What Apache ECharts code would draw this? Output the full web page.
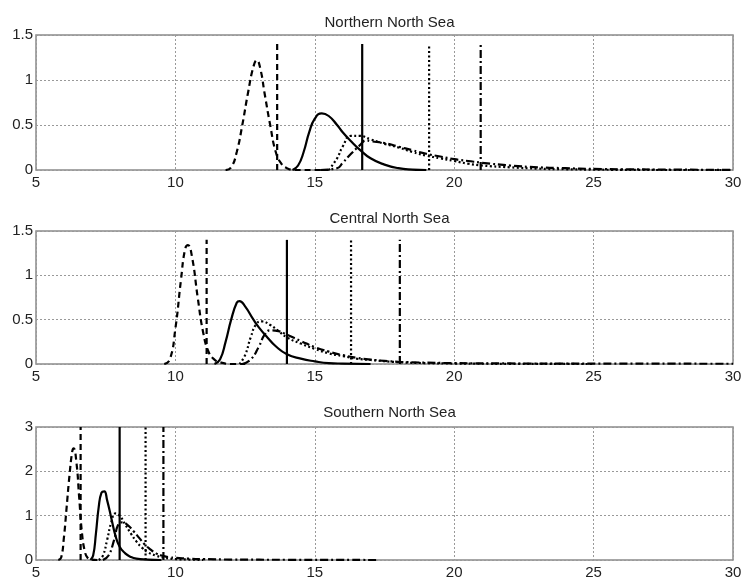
<!DOCTYPE html>
<html>
<head>
<meta charset="utf-8">
<script src="https://cdn.jsdelivr.net/npm/echarts@6/dist/echarts.min.js"></script>
<style>
html, body { margin: 0; padding: 0; background: #fff; }
#chart { width: 746px; height: 582px; }
</style>
</head>
<body>
<div id="chart"></div>
<script>
var titles = ['Northern North Sea', 'Central North Sea', 'Southern North Sea']
var yMax = [1.5, 1.5, 3]
var yStep = [0.5, 0.5, 1]

// northern north sea curves [x, density]
var northDashed = [[11.8, 0], [12.0, 0.03], [12.2, 0.2], [12.4, 0.5], [12.6, 0.85], [12.8, 1.15], [12.92, 1.22], [13.05, 1.12],
    [13.2, 0.85], [13.4, 0.5], [13.6, 0.2], [13.8, 0.07], [14.0, 0.02], [14.3, 0], [15.0, 0], [15.5, 0]]
var northSolid = [[14.2, 0], [14.4, 0.05], [14.6, 0.2], [14.8, 0.42], [15.0, 0.57], [15.25, 0.63], [15.5, 0.6], [15.8, 0.5],
    [16.0, 0.42], [16.3, 0.32], [16.6, 0.23], [17.0, 0.13], [17.5, 0.06], [18.0, 0.02], [18.5, 0.005], [19.0, 0]]
var northDotted = [[15.5, 0], [15.8, 0.13], [16.0, 0.26], [16.3, 0.38], [16.6, 0.38], [17.0, 0.34], [17.5, 0.29], [18.0, 0.25],
    [18.5, 0.2], [19.0, 0.16], [19.5, 0.13], [20.0, 0.1], [20.5, 0.07], [21.0, 0.05], [22.0, 0.03], [23.0, 0.015],
    [24.0, 0.008], [25.0, 0.004], [26.0, 0.002], [28.0, 0], [30.0, 0]]
var northDashDot = [[15.2, 0], [15.8, 0.02], [16.0, 0.08], [16.3, 0.18], [16.6, 0.27], [16.85, 0.33], [17.0, 0.32], [17.5, 0.3],
    [18.0, 0.26], [18.5, 0.22], [19.0, 0.18], [19.5, 0.15], [20.0, 0.12], [20.5, 0.1], [21.0, 0.08], [22.0, 0.05],
    [23.0, 0.03], [24.0, 0.02], [25.0, 0.012], [26.0, 0.008], [28.0, 0.004], [30.0, 0.002]]
var northMarks = [13.65, 16.7, 19.1, 20.95]

// central north sea curves
var centralDashed = [[9.6, 0], [9.8, 0.05], [10.0, 0.4], [10.2, 0.95], [10.35, 1.3], [10.45, 1.34], [10.6, 1.2], [10.8, 0.75],
    [11.0, 0.35], [11.2, 0.13], [11.4, 0.05], [11.6, 0.02], [12.0, 0], [12.5, 0]]
var centralSolid = [[11.4, 0], [11.6, 0.05], [11.8, 0.25], [12.0, 0.5], [12.2, 0.69], [12.3, 0.71], [12.5, 0.65], [12.8, 0.5],
    [13.0, 0.41], [13.3, 0.3], [13.6, 0.2], [14.0, 0.11], [14.5, 0.06], [15.0, 0.03], [15.5, 0.01], [16.0, 0.005], [17.0, 0]]
var centralDotted = [[12.3, 0], [12.5, 0.1], [12.7, 0.3], [12.9, 0.45], [13.1, 0.48], [13.4, 0.44], [13.7, 0.37], [14.0, 0.3],
    [14.5, 0.23], [15.0, 0.17], [15.5, 0.12], [16.0, 0.09], [16.5, 0.06], [17.0, 0.045], [18.0, 0.02], [19.0, 0.01],
    [20.0, 0.005], [22.0, 0.002], [25.0, 0]]
var centralDashDot = [[12.4, 0], [12.7, 0.05], [13.0, 0.2], [13.2, 0.33], [13.4, 0.38], [13.7, 0.37], [14.0, 0.33], [14.5, 0.26],
    [15.0, 0.19], [15.5, 0.14], [16.0, 0.1], [16.5, 0.07], [17.0, 0.05], [17.5, 0.035], [18.0, 0.025], [19.0, 0.015],
    [20.0, 0.01], [22.0, 0.006], [25.0, 0.004], [30.0, 0.003]]
var centralMarks = [11.12, 14.0, 16.3, 18.05]

// southern north sea curves
var southDashed = [[5.8, 0], [5.9, 0.05], [6.0, 0.5], [6.1, 1.2], [6.2, 1.9], [6.3, 2.45], [6.35, 2.52], [6.45, 2.2],
    [6.55, 1.4], [6.65, 0.6], [6.75, 0.2], [6.85, 0.05], [7.0, 0.01], [7.2, 0]]
var southSolid = [[6.95, 0], [7.05, 0.1], [7.15, 0.6], [7.25, 1.2], [7.35, 1.52], [7.45, 1.55], [7.55, 1.35], [7.7, 0.95],
    [7.85, 0.55], [8.0, 0.3], [8.2, 0.15], [8.4, 0.07], [8.6, 0.03], [9.0, 0.01], [9.5, 0]]
var southDotted = [[7.25, 0], [7.4, 0.1], [7.55, 0.45], [7.7, 0.85], [7.85, 1.05], [8.0, 1.0], [8.2, 0.8], [8.4, 0.6],
    [8.6, 0.42], [8.8, 0.28], [9.0, 0.18], [9.3, 0.1], [9.6, 0.05], [10.0, 0.02], [10.5, 0.01], [11.0, 0]]
var southDashDot = [[7.4, 0], [7.6, 0.1], [7.8, 0.45], [7.95, 0.8], [8.1, 0.85], [8.3, 0.78], [8.5, 0.65], [8.7, 0.5],
    [8.9, 0.35], [9.1, 0.24], [9.3, 0.15], [9.5, 0.1], [9.8, 0.06], [10.0, 0.05], [10.5, 0.03], [11.0, 0.02],
    [12.0, 0.01], [14.0, 0.005], [17.2, 0]]
var southMarks = [6.6, 8.0, 8.93, 9.57]

var markTop = [1.4, 1.4, 3]

var curves = [
    [northDashed, northSolid, northDotted, northDashDot],
    [centralDashed, centralSolid, centralDotted, centralDashDot],
    [southDashed, southSolid, southDotted, southDashDot]
]
var marks = [northMarks, centralMarks, southMarks]

var lineTypes = [[6, 4], 'solid', [2, 2.5], [8, 3, 2, 3]]
var gridTops = [35, 231, 427]
var gridHeights = [135, 133, 133]
var titleTops = [10, 206, 400]
var font = 'Liberation Sans, Arial, sans-serif'

var grids = [], xAxes = [], yAxes = [], titleList = [], series = []
for (let i = 0; i < 3; i++) {
    grids.push({
        left: 36, top: gridTops[i], width: 697, height: gridHeights[i],
        show: true, borderColor: '#8a8a8a', borderWidth: 1.5, backgroundColor: '#fff'
    })
    titleList.push({
        text: titles[i], left: 384.5, top: titleTops[i], textAlign: 'center',
        textStyle: { fontFamily: font, fontSize: 15, fontWeight: 'normal', color: '#222' }
    })
    xAxes.push({
        type: 'value', gridIndex: i, min: 5, max: 30, interval: 5,
        axisLine: { show: false }, axisTick: { show: false },
        axisLabel: { fontFamily: font, fontSize: 15, color: '#222', margin: 5 },
        splitLine: { lineStyle: { color: '#999', type: [2, 2], width: 1 } }
    })
    yAxes.push({
        type: 'value', gridIndex: i, min: 0, max: yMax[i], interval: yStep[i],
        axisLine: { show: false }, axisTick: { show: false },
        axisLabel: { fontFamily: font, fontSize: 15, color: '#222', margin: 3 },
        splitLine: { lineStyle: { color: '#999', type: [2, 2], width: 1 } }
    })
    for (let k = 0; k < 4; k++) {
        series.push({
            type: 'line', xAxisIndex: i, yAxisIndex: i, data: curves[i][k],
            showSymbol: false, symbol: 'none', smooth: 0.5,
            lineStyle: { color: '#000', width: 2.2, type: lineTypes[k] }, z: 3
        })
        series.push({
            type: 'line', xAxisIndex: i, yAxisIndex: i,
            data: [[marks[i][k], 0], [marks[i][k], markTop[i]]],
            showSymbol: false, symbol: 'none',
            lineStyle: { color: '#000', width: 2.2, type: lineTypes[k] }, z: 3
        })
    }
}

var myChart = echarts.init(document.getElementById('chart'))
myChart.setOption({
    backgroundColor: '#fff',
    animation: false,
    title: titleList,
    grid: grids,
    xAxis: xAxes,
    yAxis: yAxes,
    series: series
})
</script>
</body>
</html>
